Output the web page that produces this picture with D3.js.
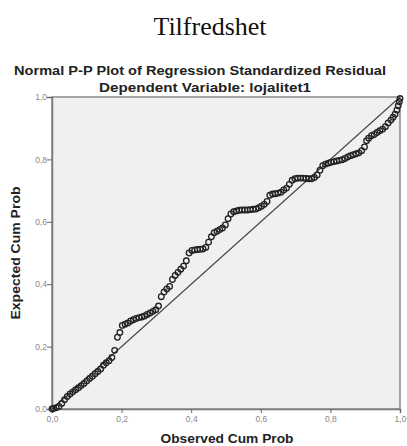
<!DOCTYPE html>
<html>
<head>
<meta charset="utf-8">
<script src="https://cdn.jsdelivr.net/npm/d3@7"></script>
<style>
  body { margin: 0; background: #fff; }
  svg { display: block; }
</style>
</head>
<body>
<svg id="chart" width="407" height="446"></svg>
<script>
'use strict';

// observed cumulative probability (x) and expected cumulative probability (y)
var observed = [
  0.000, 0.004, 0.012, 0.020, 0.028, 0.036, 0.044, 0.052, 0.060, 0.068,
  0.076, 0.084, 0.092, 0.100, 0.108, 0.116, 0.124, 0.132, 0.140, 0.148,
  0.156, 0.164, 0.172, 0.180, 0.188, 0.195, 0.202, 0.210, 0.218, 0.226,
  0.234, 0.242, 0.250, 0.258, 0.266, 0.274, 0.282, 0.290, 0.298, 0.306,
  0.314, 0.322, 0.330, 0.338, 0.346, 0.354, 0.362, 0.370, 0.378, 0.386,
  0.394, 0.402, 0.410, 0.418, 0.426, 0.434, 0.442, 0.450, 0.458, 0.466,
  0.474, 0.482, 0.490, 0.498, 0.506, 0.514, 0.522, 0.530, 0.538, 0.546,
  0.554, 0.562, 0.570, 0.578, 0.586, 0.594, 0.602, 0.610, 0.618, 0.626,
  0.634, 0.642, 0.650, 0.658, 0.666, 0.674, 0.682, 0.690, 0.698, 0.706,
  0.714, 0.722, 0.730, 0.738, 0.746, 0.754, 0.762, 0.770, 0.778, 0.786,
  0.794, 0.802, 0.810, 0.818, 0.826, 0.834, 0.842, 0.850, 0.858, 0.866,
  0.874, 0.882, 0.890, 0.898, 0.904, 0.910, 0.918, 0.926, 0.934, 0.942,
  0.950, 0.958, 0.966, 0.974, 0.980, 0.986, 0.991, 0.995, 0.998, 1.000
];
var expected = [
  0.000, 0.002, 0.004, 0.008, 0.018, 0.030, 0.040, 0.048, 0.055, 0.062,
  0.068, 0.075, 0.082, 0.090, 0.098, 0.105, 0.113, 0.120, 0.128, 0.140,
  0.148, 0.155, 0.165, 0.188, 0.230, 0.245, 0.268, 0.272, 0.276, 0.282,
  0.286, 0.290, 0.293, 0.295, 0.298, 0.303, 0.308, 0.313, 0.318, 0.330,
  0.360, 0.375, 0.385, 0.393, 0.415, 0.428, 0.438, 0.448, 0.458, 0.475,
  0.500, 0.508, 0.510, 0.511, 0.512, 0.513, 0.518, 0.535, 0.552, 0.565,
  0.570, 0.575, 0.580, 0.590, 0.610, 0.625, 0.632, 0.635, 0.637, 0.638,
  0.638, 0.638, 0.639, 0.640, 0.641, 0.645, 0.650, 0.656, 0.665, 0.685,
  0.689, 0.690, 0.692, 0.695, 0.702, 0.708, 0.720, 0.733, 0.738, 0.740,
  0.740, 0.740, 0.739, 0.738, 0.738, 0.742, 0.750, 0.765, 0.780, 0.785,
  0.788, 0.791, 0.793, 0.795, 0.797, 0.799, 0.803, 0.808, 0.812, 0.815,
  0.818, 0.821, 0.828, 0.840, 0.860, 0.868, 0.876, 0.880, 0.886, 0.892,
  0.897, 0.905, 0.917, 0.926, 0.935, 0.945, 0.958, 0.972, 0.985, 0.995
];
var tickValues = [0, 0.2, 0.4, 0.6, 0.8, 1.0];
var tickLabels = ["0,0", "0,2", "0,4", "0,6", "0,8", "1,0"];

var titleText = "Tilfredshet";
var subtitleText = "Normal P-P Plot of Regression Standardized Residual";
var depText = "Dependent Variable: lojalitet1";
var xTitle = "Observed Cum Prob";
var yTitle = "Expected Cum Prob";

var data = observed.map(function(d, i) { return { x: d, y: expected[i] }; });

var svg = d3.select("#chart");
var margin = { top: 97, left: 52, right: 7, bottom: 37 };
var width = 407 - margin.left - margin.right,
    height = 446 - margin.top - margin.bottom;

var x = d3.scaleLinear().domain([0, 1]).range([0, width]),
    y = d3.scaleLinear().domain([0, 1]).range([height, 0]);

var sans = "'Liberation Sans', Arial, sans-serif";

// titles
svg.append("text")
  .attr("x", 210).attr("y", 35)
  .attr("text-anchor", "middle")
  .style("font-family", "'Liberation Serif', 'Times New Roman', serif")
  .style("font-size", "26px")
  .style("fill", "#111")
  .text(titleText);

svg.append("text")
  .attr("x", 200).attr("y", 75)
  .attr("text-anchor", "middle")
  .attr("textLength", 372)
  .attr("lengthAdjust", "spacingAndGlyphs")
  .style("font-family", sans)
  .style("font-weight", "bold")
  .style("font-size", "13.5px")
  .style("fill", "#222")
  .text(subtitleText);

svg.append("text")
  .attr("x", 205).attr("y", 92)
  .attr("text-anchor", "middle")
  .attr("textLength", 212)
  .attr("lengthAdjust", "spacingAndGlyphs")
  .style("font-family", sans)
  .style("font-weight", "bold")
  .style("font-size", "13.5px")
  .style("fill", "#222")
  .text(depText);

var g = svg.append("g")
  .attr("transform", "translate(" + margin.left + "," + margin.top + ")");

g.append("rect")
  .attr("width", width).attr("height", height)
  .attr("fill", "#f0f0f0")
  .attr("stroke", "#8a8a8a")
  .attr("stroke-width", 1.5);

var xAxis = d3.axisBottom(x)
  .tickValues(tickValues)
  .tickSize(4)
  .tickFormat(function(d, i) { return tickLabels[i]; });

var yAxis = d3.axisLeft(y)
  .tickValues(tickValues)
  .tickSize(5)
  .tickFormat(function(d, i) { return tickLabels[i]; });

var gx = g.append("g")
  .attr("class", "x axis")
  .attr("transform", "translate(0," + height + ")")
  .call(xAxis);

var gy = g.append("g")
  .attr("class", "y axis")
  .call(yAxis);

[gx, gy].forEach(function(a) {
  a.select(".domain").attr("stroke", "#7a7a7a").attr("stroke-width", 1.5);
  a.selectAll(".tick line").attr("stroke", "#666");
  a.selectAll(".tick text")
    .style("font-family", sans)
    .style("font-size", "8.5px")
    .style("fill", "#888");
});
gy.selectAll(".tick text").attr("x", -5);

// reference diagonal
g.append("line")
  .attr("x1", x(0)).attr("y1", y(0))
  .attr("x2", x(1)).attr("y2", y(1))
  .attr("stroke", "#444")
  .attr("stroke-width", 1.1);

g.selectAll(".pt")
  .data(data)
  .enter().append("circle")
  .attr("class", "pt")
  .attr("cx", function(d) { return x(d.x); })
  .attr("cy", function(d) { return y(d.y); })
  .attr("r", 2.8)
  .attr("fill", "none")
  .attr("stroke", "#222")
  .attr("stroke-width", 1.3);

// axis titles
svg.append("text")
  .attr("x", 227).attr("y", 443)
  .attr("text-anchor", "middle")
  .attr("textLength", 133)
  .attr("lengthAdjust", "spacingAndGlyphs")
  .style("font-family", sans)
  .style("font-weight", "bold")
  .style("font-size", "13px")
  .style("fill", "#222")
  .text(xTitle);

svg.append("text")
  .attr("transform", "translate(20,253) rotate(-90)")
  .attr("text-anchor", "middle")
  .attr("textLength", 133)
  .attr("lengthAdjust", "spacingAndGlyphs")
  .style("font-family", sans)
  .style("font-weight", "bold")
  .style("font-size", "13px")
  .style("fill", "#222")
  .text(yTitle);
</script>
</body>
</html>
